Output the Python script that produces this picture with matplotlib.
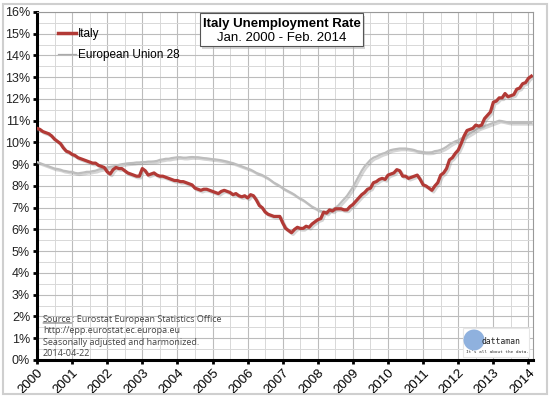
import numpy as np
import matplotlib
matplotlib.use('Agg')
import matplotlib.pyplot as plt
import matplotlib.patheffects as pe
import matplotlib.patches as mp
from matplotlib.lines import Line2D

# monthly values, Jan 2000 .. Feb 2014
italy = [
    10.65, 10.6, 10.5, 10.45, 10.4, 10.3, 10.15, 10.05, 9.95, 9.75, 9.6, 9.55,
    9.45, 9.4, 9.3, 9.25, 9.2, 9.15, 9.1, 9.05, 9.05, 8.95, 8.9, 8.85,
    8.65, 8.55, 8.75, 8.85, 8.8, 8.8, 8.7, 8.6, 8.55, 8.5, 8.45, 8.45,
    8.8, 8.7, 8.5, 8.55, 8.6, 8.5, 8.45, 8.45, 8.4, 8.35, 8.3, 8.25,
    8.25, 8.2, 8.2, 8.15, 8.1, 8.05, 7.9, 7.85, 7.8, 7.85, 7.85, 7.8,
    7.75, 7.7, 7.65, 7.75, 7.8, 7.75, 7.7, 7.6, 7.65, 7.55, 7.5, 7.55,
    7.45, 7.6, 7.55, 7.35, 7.1, 7.0, 6.8, 6.7, 6.65, 6.6, 6.6, 6.6,
    6.3, 6.05, 5.95, 5.85, 6.0, 6.1, 6.05, 6.05, 6.15, 6.1, 6.25, 6.35,
    6.45, 6.5, 6.8, 6.75, 6.9, 6.85, 6.95, 6.95, 6.95, 6.9, 6.9, 7.05,
    7.15, 7.3, 7.45, 7.6, 7.7, 7.85, 7.9, 8.15, 8.2, 8.3, 8.35, 8.3,
    8.5, 8.55, 8.6, 8.75, 8.7, 8.45, 8.45, 8.35, 8.4, 8.45, 8.5, 8.3,
    8.05, 8.0, 7.9, 7.8, 8.0, 8.15, 8.5, 8.6, 8.8, 9.2, 9.3, 9.5,
    9.65, 9.95, 10.3, 10.55, 10.6, 10.65, 10.8, 10.75, 10.8, 11.1, 11.25, 11.4,
    11.85, 11.9, 12.05, 12.05, 12.25, 12.1, 12.15, 12.2, 12.45, 12.5, 12.7, 12.75,
    12.95, 13.05,
]
eu28 = [
    9.1, 9.05, 9.0, 8.95, 8.9, 8.85, 8.8, 8.78, 8.75, 8.7, 8.68, 8.65,
    8.65, 8.6, 8.58, 8.6, 8.62, 8.65, 8.65, 8.68, 8.7, 8.75, 8.78, 8.8,
    8.85, 8.88, 8.9, 8.93, 8.97, 9.0, 9.02, 9.04, 9.05, 9.06, 9.08, 9.08,
    9.1, 9.1, 9.12, 9.12, 9.13, 9.15, 9.2, 9.22, 9.25, 9.25, 9.28, 9.3,
    9.32, 9.32, 9.3, 9.3, 9.32, 9.33, 9.32, 9.32, 9.3, 9.28, 9.27, 9.25,
    9.23, 9.22, 9.2, 9.18, 9.15, 9.12, 9.08, 9.05, 9.0, 8.95, 8.9, 8.85,
    8.8, 8.75, 8.68, 8.6, 8.55, 8.5, 8.42, 8.35, 8.25, 8.15, 8.08, 8.0,
    7.9, 7.82, 7.75, 7.68, 7.6, 7.5, 7.42, 7.35, 7.25, 7.15, 7.05, 6.98,
    6.9, 6.85, 6.8, 6.82, 6.88, 6.92, 7.0, 7.1, 7.25, 7.4, 7.55, 7.75,
    7.95, 8.2, 8.45, 8.7, 8.9, 9.05, 9.2, 9.3, 9.35, 9.42, 9.48, 9.52,
    9.6, 9.65, 9.68, 9.7, 9.72, 9.72, 9.72, 9.7, 9.68, 9.65, 9.6, 9.58,
    9.56, 9.54, 9.54, 9.55, 9.6, 9.62, 9.66, 9.72, 9.8, 9.9, 9.98, 10.05,
    10.1, 10.18, 10.25, 10.32, 10.4, 10.48, 10.58, 10.65, 10.7, 10.75, 10.8, 10.85,
    10.9, 10.95, 11.0, 10.98, 10.95, 10.92, 10.9, 10.9, 10.9, 10.9, 10.9, 10.9,
    10.9, 10.9,
]
years = list(range(2000, 2015))
pct_ticks = list(range(0, 17))
source_lines = ['http://epp.eurostat.ec.europa.eu',
                'Seasonally adjusted and harmonized.',
                '2014-04-22']

plt.rcParams['font.family'] = ['Liberation Sans', 'DejaVu Sans']


def main():
    t = 2000 + np.arange(len(italy)) / 12.0

    fig = plt.figure(figsize=(5.5, 3.98), dpi=100)
    fig.patches.append(mp.Rectangle((0.006, 0.01), 0.988, 0.98, transform=fig.transFigure,
                                    fill=False, edgecolor='#cfcfcf', linewidth=1.5))
    ax = fig.add_axes([0.0673, 0.0955, 0.9018, 0.8745])

    shadow = [pe.SimpleLineShadow(offset=(1.2, -1.2), shadow_color='#888888', alpha=0.35), pe.Normal()]
    ax.plot(t, eu28, color='#bdbdbd', lw=1.6, path_effects=shadow, zorder=3)
    ax.plot(t, italy, color='#b23a36', lw=2.3, path_effects=shadow, zorder=4)

    # range
    ax.set_xlim(2000, 2014.13)
    ax.set_ylim(0, 16)
    ax.set_xticks(years)
    ax.set_xticklabels([str(y) for y in years], rotation=45, ha='right', rotation_mode='anchor',
                       fontsize=9.5)
    ax.set_xticks(np.arange(2000.5, 2014.2, 1.0), minor=True)
    ax.set_yticks(pct_ticks)
    ax.set_yticklabels(['%d%%' % v for v in pct_ticks], fontsize=9, color='#222222')
    ax.set_yticks(np.arange(0.5, 16, 1.0), minor=True)

    # tune
    ax.grid(which='major', color='#bcbcbc', lw=0.8)
    ax.grid(which='minor', color='#d8d8d8', lw=0.7)
    ax.set_axisbelow(True)
    for s in ['left', 'bottom']:
        ax.spines[s].set_linewidth(2.2)
        ax.spines[s].set_color('black')
    for s in ['top', 'right']:
        ax.spines[s].set_linewidth(0.8)
        ax.spines[s].set_color('#999999')
    ax.tick_params(which='major', direction='out', length=3, width=2, color='black', pad=2)
    ax.tick_params(which='minor', length=0)

    # legend
    handles = [Line2D([], [], color='#b23a36', lw=2.5, label='Italy'),
               Line2D([], [], color='#aaaaaa', lw=0.9, label='European Union 28')]
    ax.legend(handles=handles, loc='upper left', bbox_to_anchor=(0.02, 0.985),
              frameon=False, fontsize=8.5, handlelength=1.6, handletextpad=0.1,
              labelspacing=0.75)

    # title box
    fig.patches.append(mp.Rectangle((0.368, 0.878), 0.296, 0.083, transform=fig.transFigure,
                                    facecolor='#aaaaaa', edgecolor='none', alpha=0.5, zorder=5))
    fig.patches.append(mp.Rectangle((0.364, 0.884), 0.296, 0.083, transform=fig.transFigure,
                                    facecolor='white', edgecolor='#555555', lw=0.8, zorder=6))
    fig.text(0.512, 0.94, 'Italy Unemployment Rate', ha='center', va='center',
             fontsize=9.5, fontweight='bold', zorder=7)
    fig.text(0.512, 0.905, 'Jan. 2000 - Feb. 2014', ha='center', va='center',
             fontsize=9.5, zorder=7)

    # source note
    src = ax.text(0.012, 0.109, 'Source', transform=ax.transAxes, fontsize=6.5,
                  color='#444444', family='Open Sans', va='baseline')
    ax.annotate(': Eurostat European Statistics Office', xy=(1, 0), xycoords=src,
                va='bottom', fontsize=6.5, color='#444444', family='Open Sans')
    ax.annotate('', xy=(0, 0.12), xytext=(1, 0.12), xycoords=src, textcoords=src,
                arrowprops=dict(arrowstyle='-', color='#444444', lw=0.6, shrinkA=0, shrinkB=0))
    for i, line in enumerate(source_lines):
        ax.text(0.012, 0.077 - i * 0.033, line, transform=ax.transAxes, fontsize=6.5,
                color='#444444', family='Open Sans', va='baseline')

    # logo
    fig.patches.append(mp.Rectangle((463 / 550, 1 - 357 / 398), 66 / 550, 29 / 398,
                                    transform=fig.transFigure, facecolor='white',
                                    edgecolor='#e6e6e6', lw=0.8, zorder=5))
    fig.patches.append(mp.Ellipse((474 / 550, 1 - 340 / 398), 21 / 550, 21 / 398,
                                  transform=fig.transFigure, facecolor='#8fb1de',
                                  edgecolor='none', zorder=6))
    fig.text(481 / 550, 1 - 342 / 398, 'dattaman', family='DejaVu Sans Mono', fontsize=5.8,
             va='center', color='#222222', zorder=7)
    fig.text(466 / 550, 1 - 352 / 398, "It's all about the data.", family='DejaVu Sans Mono',
             fontsize=3.2, va='center', color='#333333', zorder=7)

    fig.savefig('out.png', dpi=100)


if __name__ == '__main__':
    main()
